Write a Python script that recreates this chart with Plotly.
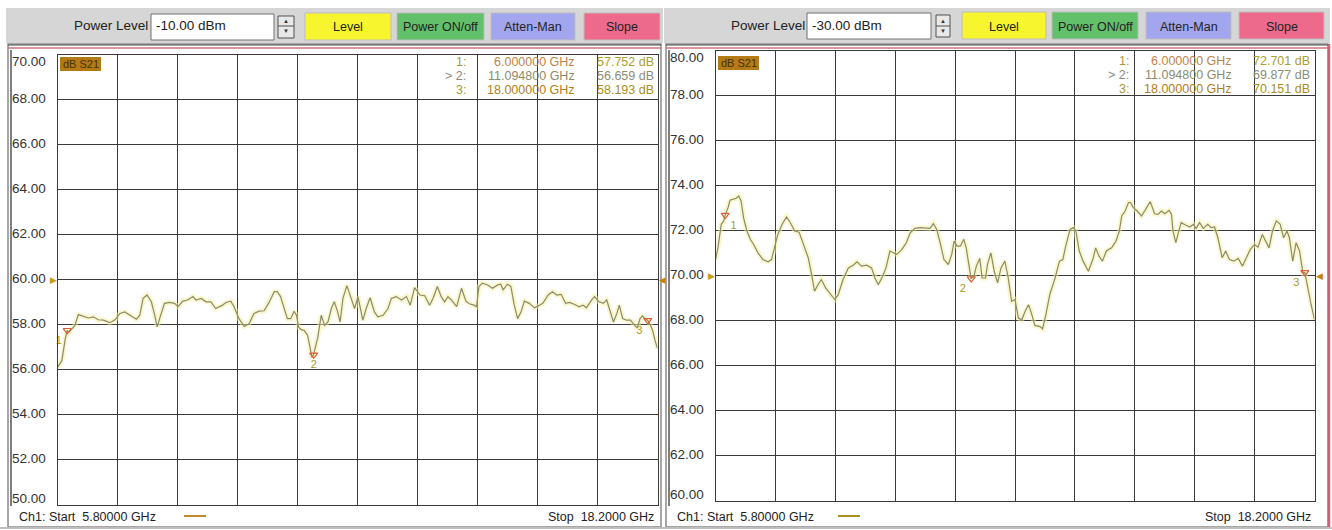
import plotly.graph_objects as go

W, H = 1332, 530

# ---------------- data ----------------
START_GHZ, STOP_GHZ = 5.8, 18.2

FREQ_L = [5.80, 5.89, 5.96, 6.00, 6.03, 6.09, 6.16, 6.23, 6.33, 6.44, 6.54, 6.64, 6.75, 6.88, 6.99,
          7.09, 7.19, 7.29, 7.43, 7.50, 7.57, 7.65, 7.74, 7.81, 7.86, 7.91, 8.01, 8.12, 8.22, 8.29,
          8.39, 8.49, 8.60, 8.66, 8.77, 8.87, 8.97, 9.07, 9.14, 9.21, 9.28, 9.38, 9.45, 9.55, 9.66,
          9.76, 9.86, 9.97, 10.07, 10.17, 10.28, 10.34, 10.41, 10.48, 10.55, 10.62, 10.69, 10.74,
          10.78, 10.83, 10.90, 10.97, 11.00, 11.06, 11.09, 11.11, 11.18, 11.25, 11.32, 11.39, 11.46,
          11.52, 11.59, 11.64, 11.70, 11.78, 11.87, 11.94, 12.01, 12.11, 12.18, 12.26, 12.35, 12.42,
          12.53, 12.63, 12.70, 12.80, 12.91, 13.01, 13.09, 13.18, 13.29, 13.39, 13.49, 13.56, 13.65,
          13.73, 13.80, 13.87, 13.94, 14.05, 14.15, 14.24, 14.31, 14.41, 14.46, 14.51, 14.58, 14.69,
          14.79, 14.90, 14.96, 15.01, 15.10, 15.17, 15.24, 15.31, 15.38, 15.45, 15.55, 15.66, 15.76,
          15.83, 15.94, 16.03, 16.12, 16.21, 16.30, 16.38, 16.49, 16.58, 16.66, 16.73, 16.84, 16.90,
          16.99, 17.08, 17.15, 17.22, 17.29, 17.36, 17.41, 17.48, 17.56, 17.64, 17.71, 17.78, 17.84,
          17.89, 17.94, 18.00, 18.05, 18.10, 18.15, 18.20]
S21_L = [56.10, 56.40, 57.37, 57.75, 57.65, 57.80, 57.97, 58.45, 58.38, 58.30, 58.35, 58.22, 58.20, 58.09, 58.22,
         58.50, 58.57, 58.42, 58.24, 58.42, 59.17, 59.32, 59.02, 58.42, 57.90, 58.27, 58.95, 58.99, 58.95, 58.80,
         59.05, 59.10, 59.25, 59.10, 59.17, 59.02, 59.02, 58.72, 58.80, 58.87, 58.99, 59.05, 58.80, 58.27, 57.92,
         58.04, 58.50, 58.60, 58.62, 58.98, 59.47, 59.47, 59.25, 58.80, 58.27, 58.27, 58.60, 58.42,
         57.90, 57.79, 57.74, 57.52, 57.22, 56.54, 56.66, 56.84, 57.44, 58.42, 57.97, 58.12, 58.72,
         59.02, 58.57, 58.12, 59.17, 59.74, 59.17, 58.72, 59.25, 58.20, 58.72, 59.20, 58.57, 58.35,
         58.42, 58.72, 59.17, 59.25, 59.10, 59.25, 58.87, 59.65, 59.32, 59.29, 58.87, 59.17, 59.70,
         59.25, 59.02, 59.25, 59.10, 58.80, 59.62, 59.05, 58.93, 58.87, 58.80, 59.70, 59.85, 59.77,
         59.62, 59.77, 59.80, 59.55, 59.80, 59.70, 58.87, 58.27, 58.57, 59.05, 58.95, 58.75, 58.87,
         58.95, 59.32, 59.47, 59.32, 59.35, 58.95, 58.99, 58.90, 58.80, 58.87, 58.75, 59.10, 59.25,
         59.02, 58.95, 59.10, 58.57, 58.12, 58.50, 58.87, 58.27, 58.20, 58.20, 58.04, 57.85, 58.27,
         58.39, 58.27, 58.19, 58.00, 57.74, 57.29, 56.95]

FREQ_R = [5.80, 5.85, 5.92, 5.97, 6.00, 6.06, 6.10, 6.16, 6.23, 6.28, 6.33, 6.38, 6.45, 6.52, 6.59,
          6.68, 6.78, 6.89, 6.96, 7.02, 7.09, 7.18, 7.27, 7.35, 7.44, 7.53, 7.61, 7.72, 7.79, 7.85,
          7.92, 7.99, 8.08, 8.17, 8.27, 8.34, 8.44, 8.55, 8.65, 8.73, 8.82, 8.93, 9.03, 9.10, 9.17,
          9.26, 9.33, 9.41, 9.48, 9.55, 9.66, 9.75, 9.83, 9.93, 10.04, 10.14, 10.24, 10.31, 10.38,
          10.45, 10.53, 10.62, 10.69, 10.74, 10.80, 10.87, 10.94, 10.99, 11.04, 11.09, 11.15, 11.20,
          11.27, 11.32, 11.39, 11.43, 11.50, 11.57, 11.64, 11.71, 11.79, 11.86, 11.93, 12.00, 12.07,
          12.14, 12.21, 12.28, 12.34, 12.41, 12.52, 12.57, 12.64, 12.72, 12.83, 12.92, 12.99, 13.05,
          13.14, 13.21, 13.26, 13.33, 13.41, 13.52, 13.61, 13.67, 13.74, 13.81, 13.89, 14.00, 14.09,
          14.16, 14.21, 14.28, 14.35, 14.39, 14.45, 14.53, 14.62, 14.71, 14.80, 14.89, 14.96, 15.03,
          15.10, 15.19, 15.24, 15.27, 15.33, 15.38, 15.44, 15.53, 15.62, 15.69, 15.75, 15.82, 15.90,
          15.99, 16.06, 16.13, 16.20, 16.29, 16.36, 16.44, 16.53, 16.62, 16.71, 16.79, 16.87, 16.96,
          17.03, 17.12, 17.19, 17.26, 17.33, 17.41, 17.49, 17.56, 17.63, 17.68, 17.75, 17.82, 17.89,
          17.96, 18.00, 18.06, 18.13, 18.20]
S21_R = [70.70, 71.24, 72.29, 72.44, 72.70, 73.03, 73.36, 73.40, 73.45, 73.55, 73.33, 72.59, 71.99, 71.62, 71.39,
         71.02, 70.72, 70.62, 70.72, 71.24, 71.84, 72.29, 72.62, 72.36, 71.99, 71.94, 71.47, 70.80, 70.05, 69.31,
         69.60, 69.83, 69.46, 69.19, 68.94, 69.16, 69.83, 70.35, 70.47, 70.62, 70.43, 70.47, 70.35, 69.90, 69.60,
         69.98, 70.35, 71.10, 71.02, 70.95, 71.17, 71.47, 71.91, 72.11, 72.14, 72.11, 72.11, 72.32, 72.06,
         71.47, 70.72, 70.50, 70.95, 71.54, 71.32, 71.32, 71.62, 71.24, 70.65, 69.88, 69.98, 70.43,
         70.77, 69.90, 69.90, 70.50, 71.02, 70.20, 69.68, 70.35, 70.65, 69.90, 68.86, 68.94, 68.12,
         68.04, 68.42, 68.71, 68.34, 67.79, 67.74, 67.64, 68.27, 69.16, 69.90, 70.65, 70.72, 71.32,
         72.06, 72.14, 71.99, 71.10, 70.65, 70.20, 70.72, 71.24, 70.87, 70.65, 71.10, 71.24, 71.54,
         71.99, 72.66, 72.88, 73.26, 73.26, 73.03, 72.88, 72.66, 72.96, 73.30, 72.76, 72.73, 72.88,
         72.76, 72.91, 72.73, 71.99, 71.47, 71.91, 72.36, 72.26, 72.17, 72.29, 72.11, 72.36, 72.11,
         72.29, 72.14, 72.17, 71.69, 70.80, 71.10, 70.72, 70.65, 70.77, 70.43, 70.80, 71.17, 71.39,
         71.27, 71.84, 71.54, 71.24, 71.99, 72.44, 72.29, 71.69, 71.99, 71.69, 70.65, 71.47, 71.10,
         70.13, 70.15, 69.46, 68.71, 68.05]

MARKER_FREQ = [6.0, 11.0948, 18.0]
MARKER_L = [57.752, 56.659, 58.193]
MARKER_R = [72.701, 69.877, 70.151]
MARKER_IDS = ["1", "2", "3"]
MARKER_ROW_LABELS = ["1:", "> 2:", "3:"]

YTICKS_L = [70, 68, 66, 64, 62, 60, 58, 56, 54, 52, 50]
YTICKS_R = [80, 78, 76, 74, 72, 70, 68, 66, 64, 62, 60]
REF_LEVEL = [60, 70]
POWER_LEVEL = ["-10.00 dBm", "-30.00 dBm"]
BUTTONS = ["Level", "Power ON/off", "Atten-Man", "Slope"]
TRACE_NAME = "dB S21"

# ---------------- styling ----------------
FONT = "Liberation Sans"
BTN_COLORS = ["#f7f52e", "#62bf6a", "#a3a6ee", "#ee6a8c"]
GRID = "#3a3a3a"
TXT = "#222222"


def px(x):
    return x / W


def py(y):
    return 1 - y / H


fig = go.Figure()
shapes = []
ann = []

panels = [
    dict(xa="x", ya="y", xdom=[57.5, 657.5], ydom=[504.5, 55], freq=FREQ_L, vals=S21_L,
         mk=MARKER_L, ticks=YTICKS_L, ref=REF_LEVEL[0], power=POWER_LEVEL[0],
         frame=[8, 661], lab_x=10, pl_x=72, box=[151, 274], spin=[278, 294],
         btn=[[305, 391], [397, 484], [491, 575], [584, 660]], btn_y=[13, 40],
         s21box=[60, 101, 57, 71], tcols=[468, 577, 656], trows=[62, 76, 90],
         line_col="#c08a2a", line_x=[184, 206], mtext_pos=["bottom left", "bottom center", "bottom left"]),
    dict(xa="x2", ya="y2", xdom=[715.5, 1314.5], ydom=[500.5, 51], freq=FREQ_R, vals=S21_R,
         mk=MARKER_R, ticks=YTICKS_R, ref=REF_LEVEL[1], power=POWER_LEVEL[1],
         frame=[666, 1328], lab_x=668, pl_x=729, box=[807, 931], spin=[936, 950],
         btn=[[962, 1046], [1052, 1138], [1146, 1231], [1239, 1324]], btn_y=[12, 39],
         s21box=[718, 759, 56, 70], tcols=[1131, 1234, 1312], trows=[61, 75, 89],
         line_col="#a89020", line_x=[838, 860], mtext_pos=["bottom right", "bottom left", "bottom left"]),
]

layout_axes = {}
for i, p in enumerate(panels):
    sfx = "" if i == 0 else "2"
    ticks = p["ticks"]
    layout_axes["xaxis" + sfx] = dict(
        domain=[px(p["xdom"][0]), px(p["xdom"][1])], range=[START_GHZ, STOP_GHZ],
        tick0=START_GHZ, dtick=(STOP_GHZ - START_GHZ) / 10, showgrid=True, gridcolor=GRID,
        gridwidth=1, showticklabels=False, ticks="", zeroline=False, showline=True,
        linecolor=GRID, linewidth=1, mirror=True, anchor="y" + sfx, fixedrange=True)
    layout_axes["yaxis" + sfx] = dict(
        domain=[py(p["ydom"][0]), py(p["ydom"][1])], range=[min(ticks), max(ticks)],
        dtick=2, showgrid=True, gridcolor=GRID, gridwidth=1, showticklabels=False, ticks="",
        zeroline=False, showline=True, linecolor=GRID, linewidth=1, mirror=True,
        anchor="x" + sfx, fixedrange=True)

    # trace: yellow memory glow + gray data trace
    fig.add_trace(go.Scatter(x=p["freq"], y=p["vals"], mode="lines", xaxis=p["xa"], yaxis=p["ya"],
                             line=dict(color="rgba(245,240,150,0.5)", width=5), hoverinfo="skip",
                             showlegend=False))
    fig.add_trace(go.Scatter(x=p["freq"], y=p["vals"], mode="lines", xaxis=p["xa"], yaxis=p["ya"],
                             line=dict(color="#8a8a72", width=1.2), showlegend=False))
    # markers
    fig.add_trace(go.Scatter(x=MARKER_FREQ, y=p["mk"], mode="markers+text", text=MARKER_IDS,
                             textposition=p["mtext_pos"], xaxis=p["xa"], yaxis=p["ya"],
                             marker=dict(symbol="triangle-down-open", size=7, color="#d8603a",
                                         line=dict(width=1.2, color="#d8603a")),
                             textfont=dict(family=FONT, size=11, color="#a89a2a"),
                             cliponaxis=False, showlegend=False))

    # y tick labels
    for k, t in enumerate(ticks):
        shift = -7 if k == 0 else (6 if k == len(ticks) - 1 else 1)
        ann.append(dict(x=px(p["lab_x"]), xref="paper", y=t, yref=p["ya"], text=f"{t:.2f}",
                        xanchor="left", yanchor="middle", yshift=shift, showarrow=False,
                        font=dict(family=FONT, size=13.5, color="#333333")))

    # reference level triangles
    ann.append(dict(x=START_GHZ, xref=p["xa"], y=p["ref"], yref=p["ya"], text="▶", showarrow=False,
                    xanchor="right", yanchor="middle", xshift=1,
                    font=dict(size=9, color="#c89a10")))
    ann.append(dict(x=STOP_GHZ, xref=p["xa"], y=p["ref"], yref=p["ya"], text="◀", showarrow=False,
                    xanchor="left", yanchor="middle", xshift=-1,
                    font=dict(size=9, color="#c8820a")))

    # frame of the panel
    f0, f1 = p["frame"]
    shapes.append(dict(type="rect", xref="paper", yref="paper", x0=px(f0), x1=px(f1),
                       y0=py(527), y1=py(44), line=dict(color="#8a8a8a", width=1.5),
                       fillcolor="rgba(0,0,0,0)", layer="below"))
    # toolbar background
    shapes.append(dict(type="rect", xref="paper", yref="paper", x0=px(f0 - 2), x1=px(f1 + 2),
                       y0=py(43), y1=py(8), line=dict(width=0), fillcolor="#d6d6d6", layer="below"))
    shapes.append(dict(type="line", xref="paper", yref="paper", x0=px(f0), x1=px(f1),
                       y0=py(45), y1=py(45), line=dict(color="#4a4a4a", width=1.2)))
    shapes.append(dict(type="line", xref="paper", yref="paper", x0=px(f0), x1=px(f1),
                       y0=py(48), y1=py(48), line=dict(color="#d07080", width=1.5)))
    # inner left frame line near labels
    shapes.append(dict(type="line", xref="paper", yref="paper", x0=px(f0 + 3), x1=px(f0 + 3),
                       y0=py(506), y1=py(50), line=dict(color="#555555", width=1.5)))

    # power level label / input box / spinner
    ann.append(dict(x=px(p["pl_x"]), xref="paper", y=py(26), yref="paper", text="Power Level",
                    xanchor="left", yanchor="middle", showarrow=False,
                    font=dict(family=FONT, size=13.5, color=TXT)))
    b0, b1 = p["box"]
    shapes.append(dict(type="rect", xref="paper", yref="paper", x0=px(b0), x1=px(b1),
                       y0=py(p["btn_y"][1]), y1=py(p["btn_y"][0] + 1), fillcolor="white",
                       line=dict(color="#707070", width=1)))
    ann.append(dict(x=px(b0 + 3), xref="paper", y=py(26), yref="paper", text=p["power"],
                    xanchor="left", yanchor="middle", showarrow=False,
                    font=dict(family=FONT, size=13.5, color=TXT)))
    s0, s1 = p["spin"]
    shapes.append(dict(type="rect", xref="paper", yref="paper", x0=px(s0), x1=px(s1),
                       y0=py(p["btn_y"][1] - 2), y1=py(p["btn_y"][0] + 3), fillcolor="#e8e8e8",
                       line=dict(color="#505050", width=1)))
    shapes.append(dict(type="line", xref="paper", yref="paper", x0=px(s0), x1=px(s1),
                       y0=py(26), y1=py(26), line=dict(color="#505050", width=1)))
    for sym, yy in (("▲", 21), ("▼", 31)):
        ann.append(dict(x=px((s0 + s1) / 2), xref="paper", y=py(yy), yref="paper", text=sym,
                        showarrow=False, xanchor="center", yanchor="middle",
                        font=dict(size=6, color="#333333")))

    # buttons
    for (x0, x1), label, col in zip(p["btn"], BUTTONS, BTN_COLORS):
        shapes.append(dict(type="rect", xref="paper", yref="paper", x0=px(x0), x1=px(x1),
                           y0=py(p["btn_y"][1]), y1=py(p["btn_y"][0]), fillcolor=col,
                           line=dict(color="#bdbdbd", width=1)))
        ann.append(dict(x=px((x0 + x1) / 2), xref="paper", y=py(27), yref="paper", text=label,
                        showarrow=False, xanchor="center", yanchor="middle",
                        font=dict(family=FONT, size=12.5, color=TXT)))

    # dB S21 tag
    a0, a1, c0, c1 = p["s21box"]
    shapes.append(dict(type="rect", xref="paper", yref="paper", x0=px(a0), x1=px(a1),
                       y0=py(c1), y1=py(c0), fillcolor="#b47a16", line=dict(width=0)))
    ann.append(dict(x=px((a0 + a1) / 2), xref="paper", y=py((c0 + c1) / 2), yref="paper",
                    text=TRACE_NAME, showarrow=False, xanchor="center", yanchor="middle",
                    font=dict(family=FONT, size=11, color="#4a3200")))

    # marker table
    c_lab, c_f, c_v = p["tcols"]
    lab_cols = ["#a89a3a", "#8a8a80", "#a89a3a"]
    f_cols = ["#c0834a", "#8c8c6a", "#b08020"]
    v_cols = ["#a8a030", "#8c8c78", "#a89020"]
    for r, (lab, f, v) in enumerate(zip(MARKER_ROW_LABELS, MARKER_FREQ, p["mk"])):
        yy = py(p["trows"][r])
        ann.append(dict(x=px(c_lab), xref="paper", y=yy, yref="paper", text=lab, showarrow=False,
                        xanchor="right", yanchor="middle",
                        font=dict(family=FONT, size=12.5, color=lab_cols[r])))
        ann.append(dict(x=px(c_f), xref="paper", y=yy, yref="paper", text=f"{f:.6f} GHz",
                        showarrow=False, xanchor="right", yanchor="middle",
                        font=dict(family=FONT, size=12.5, color=f_cols[r])))
        ann.append(dict(x=px(c_v), xref="paper", y=yy, yref="paper", text=f"{v:.3f} dB",
                        showarrow=False, xanchor="right", yanchor="middle",
                        font=dict(family=FONT, size=12.5, color=v_cols[r])))

    # footer
    ann.append(dict(x=px(f0 + 9), xref="paper", y=py(517), yref="paper",
                    text=f"Ch1: Start  {START_GHZ:.5f} GHz", showarrow=False, xanchor="left",
                    yanchor="middle", font=dict(family=FONT, size=12.5, color=TXT)))
    shapes.append(dict(type="line", xref="paper", yref="paper", x0=px(p["line_x"][0]),
                       x1=px(p["line_x"][1]), y0=py(516), y1=py(516),
                       line=dict(color=p["line_col"], width=2)))
    ann.append(dict(x=px(p["xdom"][1] - 2), xref="paper", y=py(517), yref="paper",
                    text=f"Stop  {STOP_GHZ:.4f} GHz", showarrow=False, xanchor="right",
                    yanchor="middle", font=dict(family=FONT, size=12.5, color=TXT)))

# right panel pink border
shapes.append(dict(type="line", xref="paper", yref="paper", x0=px(1329), x1=px(1329),
                   y0=py(527), y1=py(44), line=dict(color="#c86478", width=2.5)))
shapes.append(dict(type="line", xref="paper", yref="paper", x0=px(0), x1=px(1332),
                   y0=py(528), y1=py(528), line=dict(color="#bdbdbd", width=2)))

fig.update_layout(
    width=W, height=H, margin=dict(l=0, r=0, t=0, b=0),
    paper_bgcolor="white", plot_bgcolor="white",
    shapes=shapes, annotations=ann, showlegend=False,
    font=dict(family=FONT, size=12, color=TXT),
    **layout_axes,
)

fig.write_html("out.html", config={"displayModeBar": False},
               post_script="document.body.style.margin='0px';document.body.style.overflow='hidden';")
